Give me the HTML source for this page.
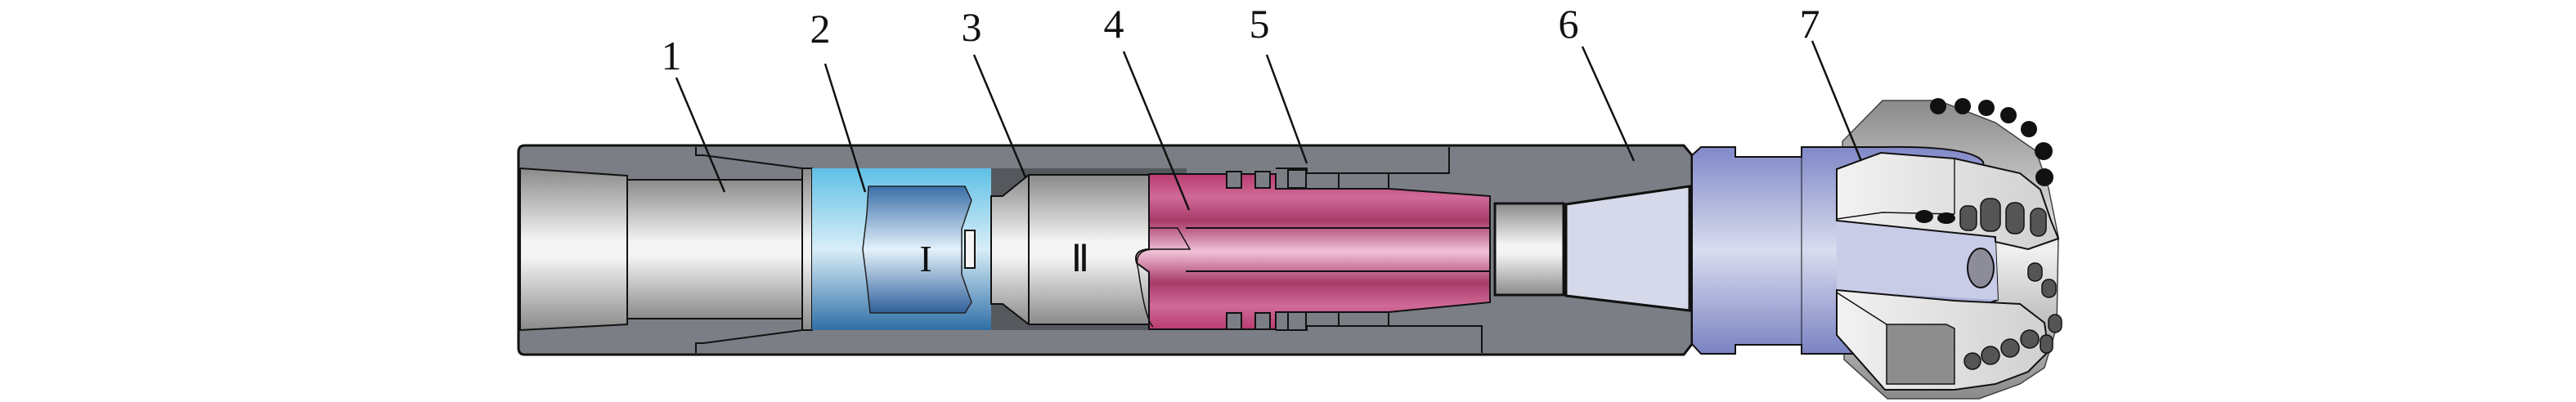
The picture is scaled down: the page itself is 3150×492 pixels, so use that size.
<!DOCTYPE html>
<html><head><meta charset="utf-8"><style>
html,body{margin:0;padding:0;background:#fff;}
svg{display:block}
text{font-family:"Liberation Serif",serif;fill:#111}
</style></head><body>
<svg width="3150" height="492" viewBox="0 0 3150 492" xmlns="http://www.w3.org/2000/svg">
<defs>
<linearGradient id="steel" x1="0" y1="0" x2="0" y2="1">
<stop offset="0" stop-color="#8a8a8a"/><stop offset="0.45" stop-color="#f4f4f4"/><stop offset="0.55" stop-color="#f4f4f4"/><stop offset="1" stop-color="#8a8a8a"/></linearGradient>
<linearGradient id="blue" x1="0" y1="0" x2="0" y2="1">
<stop offset="0" stop-color="#5fc0e6"/><stop offset="0.5" stop-color="#d8eef8"/><stop offset="1" stop-color="#2f6fa6"/></linearGradient>
<linearGradient id="nozzle" x1="0" y1="0" x2="0" y2="1">
<stop offset="0" stop-color="#3a6fa8"/><stop offset="0.5" stop-color="#e4f2fb"/><stop offset="1" stop-color="#2f5f99"/></linearGradient>
<linearGradient id="pink" x1="0" y1="0" x2="0" y2="1">
<stop offset="0" stop-color="#b83c70"/><stop offset="0.15" stop-color="#d06a98"/><stop offset="0.3" stop-color="#a83a68"/><stop offset="0.5" stop-color="#f0c2d8"/><stop offset="0.7" stop-color="#a83a68"/><stop offset="0.85" stop-color="#d06a98"/><stop offset="1" stop-color="#b83c70"/></linearGradient>
<linearGradient id="sub" x1="0" y1="0" x2="0" y2="1">
<stop offset="0" stop-color="#8088c8"/><stop offset="0.5" stop-color="#d8dcee"/><stop offset="1" stop-color="#7a82c2"/></linearGradient>
<linearGradient id="bit" x1="0" y1="0" x2="0" y2="1">
<stop offset="0" stop-color="#8a8a8a"/><stop offset="0.5" stop-color="#f0f0f0"/><stop offset="1" stop-color="#8a8a8a"/></linearGradient>
<linearGradient id="blade" x1="0" y1="0" x2="1" y2="0">
<stop offset="0" stop-color="#f2f2f2"/><stop offset="1" stop-color="#d0d0d0"/></linearGradient>
</defs>

<!-- main grey tube -->
<path d="M642,178 H2059 L2069,190 V421 L2059,434 H642 Q634,434 634,426 V186 Q634,178 642,178 Z" fill="#7b7e84" stroke="#111" stroke-width="3"/>
<polyline points="851,180 851,190 860,190 981,206" fill="none" stroke="#111" stroke-width="2"/>
<polyline points="851,432 851,420 860,420 981,404" fill="none" stroke="#111" stroke-width="2"/>
<!-- section 1 bore -->
<path d="M636,206 L767,215 V397 L636,404 Z" fill="url(#steel)" stroke="#111" stroke-width="2"/>
<rect x="767" y="220" width="214" height="170" fill="url(#steel)" stroke="#111" stroke-width="2"/>
<rect x="981" y="206" width="12" height="198" fill="url(#steel)" stroke="#111" stroke-width="2"/>
<!-- blue section 2 -->
<rect x="993" y="206" width="219" height="198" fill="url(#blue)"/>
<path d="M1062,228 H1180 L1188,245 L1176,280 V336 L1188,370 L1180,383 H1064 L1060,345 L1055,305 L1060,262 Z" fill="url(#nozzle)" stroke="#222" stroke-width="1.5"/>
<rect x="1180" y="282" width="12" height="46" fill="#f4f4f4" stroke="#111" stroke-width="2"/>
<text x="1132" y="332" font-size="46" text-anchor="middle">I</text>
<!-- section 3 -->
<rect x="1212" y="206" width="239" height="198" fill="#55585d"/>
<path d="M1212,240 H1226 L1258,214 H1405 V397 H1258 L1226,372 H1212 Z" fill="url(#steel)" stroke="#111" stroke-width="2"/>
<line x1="1258" y1="214" x2="1258" y2="397" stroke="#111" stroke-width="2"/>
<text x="1321" y="332" font-size="46" text-anchor="middle">Ⅱ</text>
<!-- pink piston -->
<path d="M1405,213 H1560 V231 H1698 L1822,240 V370 L1698,382 H1560 V403 H1405 V333 L1390,322 Q1385,306 1405,305 Z" fill="url(#pink)" stroke="#111" stroke-width="2"/>
<path d="M1405,279 H1440 L1455,305 H1410 Q1385,306 1392,330 Q1400,390 1410,400" fill="none" stroke="#111" stroke-width="1.5"/>
<line x1="1450" y1="279" x2="1822" y2="279" stroke="#111" stroke-width="2"/>
<line x1="1450" y1="332" x2="1822" y2="332" stroke="#111" stroke-width="2"/>
<g fill="#7b7e84" stroke="#111" stroke-width="2">
<rect x="1500" y="210" width="18" height="20"/><rect x="1535" y="210" width="18" height="20"/>
<rect x="1500" y="383" width="18" height="20"/><rect x="1535" y="383" width="18" height="20"/>
<rect x="1575" y="208" width="22" height="22"/><rect x="1637" y="212" width="61" height="19"/>
<rect x="1575" y="382" width="22" height="22"/><rect x="1637" y="382" width="61" height="17"/>
</g>
<polyline points="1560,206 1598,206 1598,212 1635,212 1772,212 1772,180" fill="none" stroke="#111" stroke-width="2"/>
<polyline points="1560,404 1598,404 1598,399 1812,399 1812,432" fill="none" stroke="#111" stroke-width="2"/>
<!-- white ring -->
<rect x="1828" y="249" width="84" height="112" fill="url(#steel)" stroke="#111" stroke-width="3"/>
<!-- cone -->
<path d="M1915,250 L2066,228 V380 L1915,362 Z" fill="#d6d9ea" stroke="#111" stroke-width="3"/>

<!-- bit back body (grey) -->
<path d="M2253,173 L2302,123 H2370 L2440,150 L2490,185 L2505,230 L2517,290 L2515,400 L2500,450 L2470,470 L2420,488 H2308 L2255,440 Z" fill="url(#bit)" stroke="#444" stroke-width="1.5"/>
<!-- blue sub -->
<path d="M2069,190 L2080,180 H2122 V192 H2203 V180 H2300 Q2410,178 2425,198 L2440,295 L2443,367 L2300,420 V433 H2203 V422 H2122 V433 H2080 L2069,421 Z" fill="url(#sub)" stroke="#111" stroke-width="2"/>
<line x1="2203" y1="192" x2="2203" y2="422" stroke="#111" stroke-width="1"/>
<!-- middle blue between blades -->
<path d="M2246,270 L2440,292 L2443,367 L2246,356 Z" fill="#c8cce6"/>
<ellipse cx="2422" cy="328" rx="16" ry="24" fill="#8d8d9a" stroke="#111" stroke-width="2"/>
<!-- upper blade -->
<path d="M2246,207 L2300,187 L2390,194 L2470,212 L2495,232 L2508,270 L2517,292 L2480,305 L2440,296 L2440,290 L2246,270 Z" fill="url(#blade)" stroke="#111" stroke-width="2"/>
<line x1="2390" y1="194" x2="2390" y2="262" stroke="#222" stroke-width="1.5"/>
<polyline points="2246,268 2302,260 2390,262" fill="none" stroke="#111" stroke-width="1.5"/>
<!-- lower blade -->
<path d="M2246,355 L2390,368 L2470,372 L2500,395 L2505,430 L2480,455 L2440,470 L2390,477 H2305 L2246,410 Z" fill="url(#blade)" stroke="#111" stroke-width="2"/>
<path d="M2307,397 H2380 L2390,402 V470 H2307 Z" fill="#8d8d8d" stroke="#111" stroke-width="1.5"/>
<polyline points="2246,358 2307,397" fill="none" stroke="#111" stroke-width="1.5"/>
<!-- top cutters -->
<g fill="#111">
<circle cx="2370" cy="130" r="10"/><circle cx="2400" cy="130" r="10"/><circle cx="2429" cy="132" r="10"/>
<circle cx="2456" cy="141" r="10"/><circle cx="2481" cy="158" r="10"/><circle cx="2499" cy="185" r="11"/>
<circle cx="2500" cy="217" r="11"/>
<ellipse cx="2353" cy="265" rx="11" ry="8"/><ellipse cx="2380" cy="267" rx="11" ry="7"/>
</g>
<g fill="#555" stroke="#111" stroke-width="1.5">
<rect x="2397" y="252" width="20" height="30" rx="8"/><rect x="2422" y="243" width="24" height="40" rx="10"/>
<rect x="2453" y="248" width="22" height="38" rx="10"/><rect x="2483" y="255" width="19" height="34" rx="9"/>
<rect x="2480" y="322" width="17" height="22" rx="8"/><rect x="2497" y="342" width="17" height="22" rx="8"/>
<rect x="2505" y="385" width="16" height="22" rx="8"/><rect x="2495" y="410" width="15" height="22" rx="7"/>
<circle cx="2412" cy="442" r="10"/><circle cx="2434" cy="435" r="11"/><circle cx="2458" cy="426" r="11"/><circle cx="2482" cy="415" r="11"/>
</g>
<!-- leader lines -->
<g stroke="#111" stroke-width="2.5">
<line x1="827" y1="95" x2="886" y2="235"/>
<line x1="1009" y1="78" x2="1058" y2="235"/>
<line x1="1191" y1="67" x2="1254" y2="217"/>
<line x1="1374" y1="63" x2="1454" y2="257"/>
<line x1="1549" y1="67" x2="1598" y2="200"/>
<line x1="1935" y1="57" x2="1998" y2="197"/>
<line x1="2216" y1="50" x2="2276" y2="197"/>
</g>
<g font-size="50" text-anchor="middle">
<text x="821" y="85">1</text>
<text x="1003" y="52">2</text>
<text x="1188" y="50">3</text>
<text x="1362" y="46">4</text>
<text x="1540" y="46">5</text>
<text x="1918" y="46">6</text>
<text x="2213" y="46">7</text>
</g>
</svg>
</body></html>
